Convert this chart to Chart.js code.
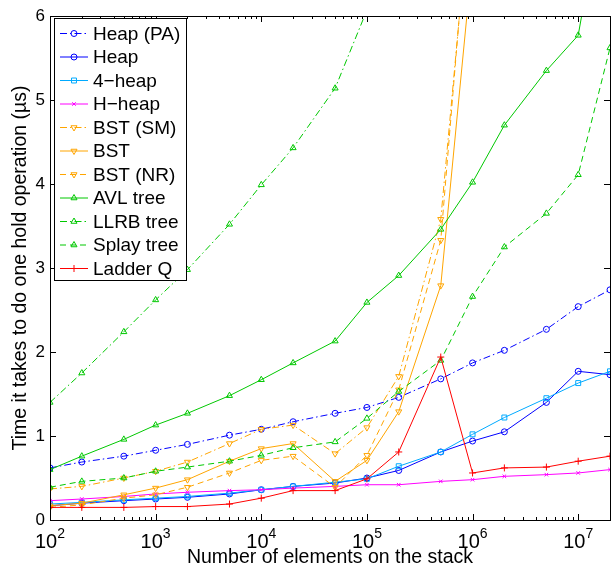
<!DOCTYPE html>
<html>
<head>
<meta charset="utf-8">
<script src="https://cdn.jsdelivr.net/npm/chart.js"></script>
<style>
  html, body { margin: 0; padding: 0; background: #fff; }
  #wrap { width: 615px; height: 571px; }
</style>
</head>
<body>
<div id="wrap"><canvas id="chart"></canvas></div>
<script>
const FONT = '"Liberation Sans", Arial, Helvetica, sans-serif';

// number of elements on the stack
const N = [1e2, 2e2, 5e2, 1e3, 2e3, 5e3, 1e4, 2e4, 5e4, 1e5, 2e5, 5e5, 1e6, 2e6, 5e6, 1e7, 2e7];

// time per hold operation (us)
const heapPA  = [0.62, 0.69, 0.76, 0.83, 0.90, 1.01, 1.08, 1.17, 1.27, 1.34, 1.46, 1.68, 1.87, 2.02, 2.27, 2.54, 2.74];
const heap    = [0.17, 0.20, 0.23, 0.25, 0.27, 0.31, 0.36, 0.40, 0.44, 0.50, 0.59, 0.81, 0.94, 1.05, 1.40, 1.77, 1.73];
const heap4   = [0.19, 0.21, 0.24, 0.26, 0.28, 0.32, 0.36, 0.40, 0.45, 0.49, 0.64, 0.81, 1.02, 1.22, 1.45, 1.63, 1.77];
const hHeap   = [0.23, 0.25, 0.28, 0.31, 0.33, 0.35, 0.36, 0.38, 0.40, 0.42, 0.42, 0.46, 0.48, 0.52, 0.54, 0.56, 0.60];
const bstSM   = [0.37, 0.40, 0.50, 0.58, 0.69, 0.91, 1.08, 1.13, 0.79, 1.10, 1.71, 3.58, 7.7];
const bst     = [0.17, 0.20, 0.30, 0.38, 0.48, 0.70, 0.85, 0.91, 0.46, 0.71, 1.29, 2.79, 6.7];
const bstNR   = [0.15, 0.18, 0.26, 0.30, 0.39, 0.56, 0.71, 0.76, 0.39, 0.77, 1.55, 3.33, 7.9];
const avl     = [0.60, 0.76, 0.96, 1.13, 1.27, 1.48, 1.67, 1.87, 2.13, 2.59, 2.91, 3.46, 4.02, 4.70, 5.35, 5.77, 7.9];
const llrb    = [1.40, 1.75, 2.24, 2.62, 2.98, 3.52, 3.99, 4.43, 5.14, 6.07];
const splay   = [0.39, 0.46, 0.50, 0.58, 0.63, 0.70, 0.77, 0.86, 0.93, 1.21, 1.53, 1.90, 2.66, 3.25, 3.65, 4.11, 5.62];
const ladderQ = [0.15, 0.15, 0.15, 0.16, 0.16, 0.19, 0.26, 0.35, 0.35, 0.49, 0.81, 1.94, 0.56, 0.62, 0.63, 0.70, 0.76];

// axis ticks
const xTickExp = [2, 3, 4, 5, 6, 7];
const yTicks = [0, 1, 2, 3, 4, 5, 6];

const BLUE = '#0000ff', LBLUE = '#00aaff', MAG = '#ff00ff', ORANGE = '#ffa500', GREEN = '#00c800', RED = '#ff0000';
const SOLID = [], DASH = [6, 4], DASHDOT = [7, 3, 1.5, 3];

const series = [
  { label: 'Heap (PA)',  data: heapPA,  color: BLUE,   dash: DASHDOT, style: 'circle',   r: 3 },
  { label: 'Heap',       data: heap,    color: BLUE,   dash: SOLID,   style: 'circle',   r: 3 },
  { label: '4\u2212heap', data: heap4,  color: LBLUE,  dash: SOLID,   style: 'rect',     r: 3.5 },
  { label: 'H\u2212heap', data: hHeap,  color: MAG,    dash: SOLID,   style: 'crossRot', r: 2.5 },
  { label: 'BST (SM)',   data: bstSM,   color: ORANGE, dash: DASHDOT, style: 'triangle', r: 3.5, rot: 180 },
  { label: 'BST',        data: bst,     color: ORANGE, dash: SOLID,   style: 'triangle', r: 3.5, rot: 180 },
  { label: 'BST (NR)',   data: bstNR,   color: ORANGE, dash: DASH,    style: 'triangle', r: 3.5, rot: 180 },
  { label: 'AVL tree',   data: avl,     color: GREEN,  dash: SOLID,   style: 'triangle', r: 3.5 },
  { label: 'LLRB tree',  data: llrb,    color: GREEN,  dash: DASHDOT, style: 'triangle', r: 3.5 },
  { label: 'Splay tree', data: splay,   color: GREEN,  dash: DASH,    style: 'triangle', r: 3.5 },
  { label: 'Ladder Q',   data: ladderQ, color: RED,    dash: SOLID,   style: 'cross',    r: 3.5 }
];

const datasets = series.map((s, i) => ({
  label: s.label,
  data: s.data.map((v, j) => ({ x: N[j], y: v })),
  borderColor: s.color,
  borderWidth: 1,
  borderDash: s.dash,
  pointStyle: s.style,
  pointRadius: s.r,
  pointRotation: s.rot || 0,
  pointBorderColor: s.color,
  pointBackgroundColor: 'rgba(0,0,0,0)',
  pointBorderWidth: 1,
  tension: 0,
  clip: 0,
  order: -i
}));

// box, inward ticks, x tick labels with exponents, legend inside the axes
const frame = {
  id: 'frame',
  afterDraw(chart) {
    const { ctx, chartArea: a, scales: { x, y } } = chart;
    ctx.save();
    ctx.strokeStyle = '#000';
    ctx.lineWidth = 1;
    ctx.setLineDash([]);
    ctx.strokeRect(a.left + 0.5, a.top + 0.5, a.right - a.left, a.bottom - a.top);

    ctx.beginPath();
    xTickExp.forEach(e => {
      for (let m = 1; m <= 9; m++) {
        const v = m * Math.pow(10, e);
        if (v > x.max) break;
        const px = Math.round(x.getPixelForValue(v)) + 0.5;
        const len = m === 1 ? 6 : 3;
        ctx.moveTo(px, a.bottom); ctx.lineTo(px, a.bottom - len);
        ctx.moveTo(px, a.top); ctx.lineTo(px, a.top + len);
      }
    });
    yTicks.forEach(t => {
      const py = Math.round(y.getPixelForValue(t)) + 0.5;
      ctx.moveTo(a.left, py); ctx.lineTo(a.left + 6, py);
      ctx.moveTo(a.right, py); ctx.lineTo(a.right - 6, py);
    });
    ctx.stroke();

    ctx.fillStyle = '#000';
    ctx.textBaseline = 'alphabetic';
    ctx.textAlign = 'left';
    xTickExp.forEach(e => {
      const px = x.getPixelForValue(Math.pow(10, e));
      ctx.font = '20px ' + FONT;
      const w10 = ctx.measureText('10').width;
      ctx.font = '14px ' + FONT;
      const we = ctx.measureText(String(e)).width;
      const x0 = px - (w10 + we) / 2;
      ctx.font = '20px ' + FONT;
      ctx.fillText('10', x0, 548);
      ctx.font = '14px ' + FONT;
      ctx.fillText(String(e), x0 + w10, 538);
    });

    // legend
    const lx = 54.5, ly = 18.5, lw = 132, lh = 262, row = 23.5;
    ctx.fillStyle = '#fff';
    ctx.fillRect(lx, ly, lw, lh);
    ctx.strokeStyle = '#000';
    ctx.strokeRect(lx, ly, lw, lh);
    ctx.font = '19px ' + FONT;
    ctx.textBaseline = 'middle';
    series.forEach((s, i) => {
      const cy = 33.5 + i * row;
      ctx.strokeStyle = s.color;
      ctx.lineWidth = 1;
      ctx.setLineDash(s.dash);
      ctx.beginPath();
      ctx.moveTo(60, cy); ctx.lineTo(88, cy);
      ctx.stroke();
      ctx.setLineDash([]);
      ctx.fillStyle = 'rgba(0,0,0,0)';
      Chart.helpers.drawPoint(ctx, { pointStyle: s.style, rotation: s.rot || 0, radius: s.r, borderWidth: 1 }, 74, cy);
      ctx.fillStyle = '#000';
      ctx.fillText(s.label, 93, cy + 1);
    });
    ctx.restore();
  }
};

Chart.defaults.font.family = FONT;
Chart.defaults.color = '#000';

new Chart(document.getElementById('chart'), {
  type: 'line',
  data: { datasets },
  options: {
    responsive: true,
    maintainAspectRatio: false,
    animation: false,
    layout: { padding: { top: 16, right: 0, left: 0, bottom: 0 } },
    plugins: { legend: { display: false }, tooltip: { enabled: false } },
    scales: {
      x: {
        type: 'logarithmic',
        min: 100,
        max: 2e7,
        grid: { display: false, drawTicks: false },
        border: { display: false },
        ticks: { display: false },
        title: { display: true, text: 'Number of elements on the stack', font: { size: 19.5 }, padding: { top: 0, bottom: 2 } },
        afterFit: s => { s.height = 51; }
      },
      y: {
        min: 0,
        max: 6,
        grid: { display: false, drawTicks: false },
        border: { display: false },
        ticks: { stepSize: 1, font: { size: 17 }, padding: 5 },
        afterBuildTicks: s => { s.ticks = yTicks.map(v => ({ value: v })); },
        title: { display: true, text: 'Time it takes to do one hold operation (\u00b5s)', font: { size: 19.5 }, padding: { top: 9, bottom: 0 } },
        afterFit: s => { s.width = 50; }
      }
    }
  },
  plugins: [frame]
});
</script>
</body>
</html>
